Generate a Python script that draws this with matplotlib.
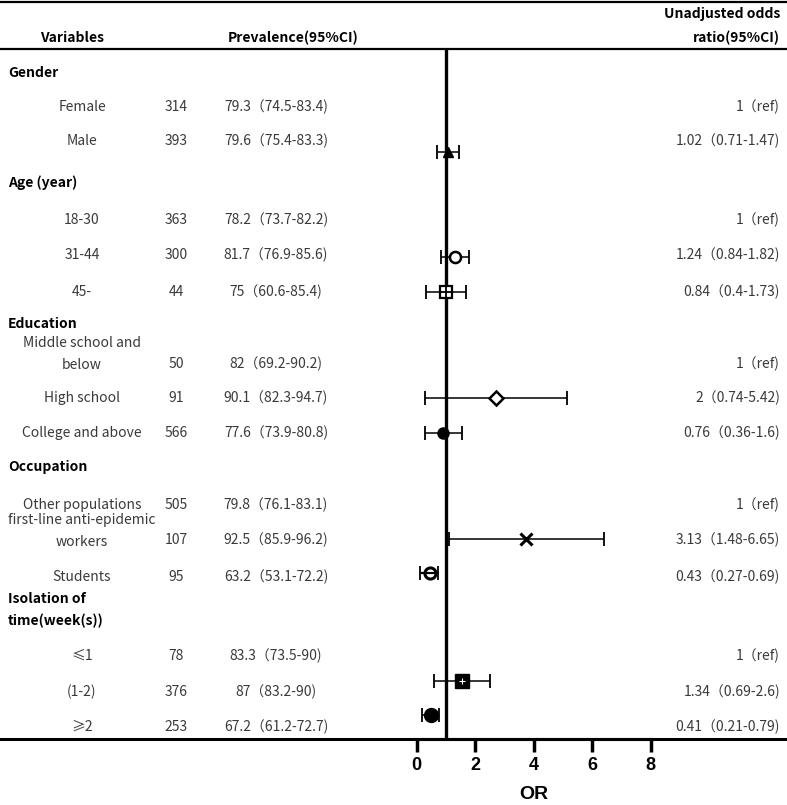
import matplotlib
matplotlib.use("Agg")
import matplotlib.pyplot as plt

plt.rcParams['font.family'] = ['Noto Sans CJK SC', 'DejaVu Sans']

# table rows
groups = ["Gender", "Age (year)", "Education", "Occupation", "Isolation of\ntime(week(s))"]
group_y = [73, 183, 324, 467, 610]

labels = ["Female", "Male", "18-30", "31-44", "45-",
          "Middle school and\nbelow", "High school", "College and above",
          "Other populations", "first-line anti-epidemic\nworkers", "Students",
          "≤1", "(1-2)", "≥2"]
label_y = [107, 141, 220, 255, 292, 354, 398, 433, 505, 531, 577, 656, 692, 727]
value_y = [107, 141, 220, 255, 292, 364, 398, 433, 505, 540, 577, 656, 692, 727]
n = [314, 393, 363, 300, 44, 50, 91, 566, 505, 107, 95, 78, 376, 253]
prev = ["79.3（74.5-83.4)", "79.6（75.4-83.3)", "78.2（73.7-82.2)", "81.7（76.9-85.6)",
        "75（60.6-85.4)", "82（69.2-90.2)", "90.1（82.3-94.7)", "77.6（73.9-80.8)",
        "79.8（76.1-83.1)", "92.5（85.9-96.2)", "63.2（53.1-72.2)", "83.3（73.5-90)",
        "87（83.2-90)", "67.2（61.2-72.7)"]
or_txt = ["1（ref)", "1.02（0.71-1.47)", "1（ref)", "1.24（0.84-1.82)", "0.84（0.4-1.73)",
          "1（ref)", "2（0.74-5.42)", "0.76（0.36-1.6)", "1（ref)", "3.13（1.48-6.65)",
          "0.43（0.27-0.69)", "1（ref)", "1.34（0.69-2.6)", "0.41（0.21-0.79)"]

# plotted points (as drawn in the figure)
pt_y = [152, 257, 292, 398, 433, 539, 573, 681, 715]
pt_or = [1.06, 1.31, 1.0, 2.72, 0.91, 3.74, 0.45, 1.54, 0.48]
pt_lo = [0.68, 0.82, 0.32, 0.30, 0.28, 1.11, 0.10, 0.59, 0.17]
pt_hi = [1.46, 1.80, 1.69, 5.15, 1.54, 6.40, 0.73, 2.51, 0.77]

W, H = 787, 805
fig = plt.figure(figsize=(W / 100, H / 100), dpi=100)
bg = fig.add_axes([0, 0, 1, 1])
bg.set_xlim(0, W)
bg.set_ylim(H, 0)
bg.axis("off")

fs = 10
grey = "#3a3a3a"
bg.axhline(2, color="black", lw=1.6)
bg.axhline(49, color="black", lw=1.6)
bg.axhline(738.5, color="black", lw=2.2)

bg.text(72, 38, "Variables", ha="center", va="center", fontsize=fs, fontweight="bold")
bg.text(228, 38, "Prevalence(95%CI)", ha="left", va="center", fontsize=fs, fontweight="bold")
bg.text(780, 14, "Unadjusted odds", ha="right", va="center", fontsize=fs, fontweight="bold")
bg.text(780, 38, "ratio(95%CI)", ha="right", va="center", fontsize=fs, fontweight="bold")

for g, y in zip(groups, group_y):
    bg.text(8, y, g, ha="left", va="center", fontsize=fs, fontweight="bold", linespacing=1.7)

for i in range(len(labels)):
    bg.text(82, label_y[i], labels[i], ha="center", va="center", fontsize=fs, linespacing=1.7, color=grey)
    bg.text(176, value_y[i], str(n[i]), ha="center", va="center", fontsize=fs, color=grey)
    bg.text(276, value_y[i], prev[i], ha="center", va="center", fontsize=fs, color=grey)
    bg.text(780, value_y[i], or_txt[i], ha="right", va="center", fontsize=fs, color=grey)

# forest panel
x0, x1 = 416.7, 650.7
top, bot = 50, 738.5
ax = fig.add_axes([x0 / W, (H - bot) / H, (x1 - x0) / W, (bot - top) / H])
ax.set_xlim(0, 8)
ax.set_ylim(bot, top)
ax.patch.set_alpha(0)
for s in ["top", "right", "left"]:
    ax.spines[s].set_visible(False)
ax.spines["bottom"].set_linewidth(2.2)
ax.set_yticks([])
ax.set_xticks([0, 2, 4, 6, 8])
ax.tick_params(axis="x", length=9, width=2.5, pad=4, labelsize=13)
for t in ax.get_xticklabels():
    t.set_fontweight("bold")
    t.set_family("Liberation Sans")
ax.set_xlabel("OR", fontsize=14, fontweight="bold", family="Liberation Sans", labelpad=9)
ax.axvline(1, color="black", lw=2.4, zorder=1)

styles = [
    dict(marker="^", mfc="black", ms=7),
    dict(marker="o", mfc="white", ms=8, mew=1.8),
    dict(marker="s", mfc="white", ms=9, mew=1.6),
    dict(marker="D", mfc="white", ms=7, mew=1.8),
    dict(marker="o", mfc="black", ms=8),
    dict(marker="x", mfc="black", ms=8, mew=2.2),
    dict(marker="o", mfc="white", ms=8, mew=2.2),
    dict(marker="s", mfc="black", ms=10),
    dict(marker="o", mfc="black", ms=10),
]
for k in range(len(pt_or)):
    y = pt_y[k]
    ax.errorbar(pt_or[k], y, xerr=[[pt_or[k] - pt_lo[k]], [pt_hi[k] - pt_or[k]]],
                fmt="none", ecolor="black", elinewidth=1.1, capsize=5, capthick=1.3, zorder=2)
    ax.plot(pt_or[k], y, linestyle="none", color="black", mec="black", zorder=3, **styles[k])
    if k == 2:
        ax.plot(pt_or[k], y, marker="+", ms=9, color="black", mew=1.3, zorder=4)
    if k == 6:
        ax.plot(pt_or[k], y, marker="_", ms=13, color="black", mew=1.6, zorder=4)
    if k == 7:
        ax.plot(pt_or[k], y, marker="+", ms=5, color="white", mew=0.8, zorder=4)

fig.savefig("out.png", dpi=100)
